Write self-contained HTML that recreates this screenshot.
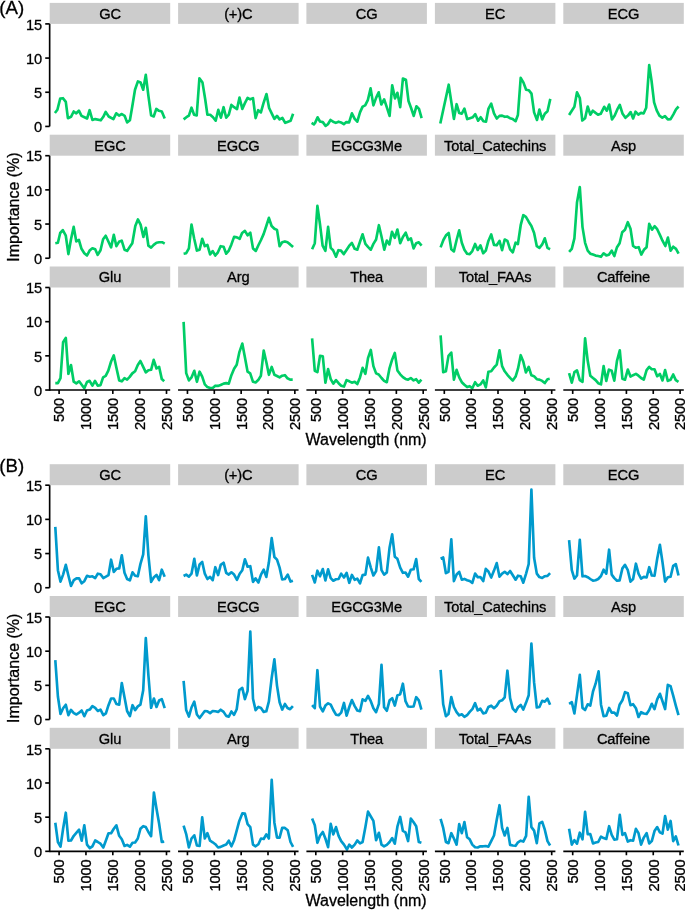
<!DOCTYPE html>
<html lang="en"><head><meta charset="utf-8"><title>Importance vs Wavelength</title>
<style>html,body{margin:0;padding:0;background:#fff}body{width:685px;height:910px;overflow:hidden}svg{display:block}text{font-family:"Liberation Sans",Arial,Helvetica,sans-serif;fill:#000;stroke:#000;stroke-width:.3px}.tk{font-size:14.67px;letter-spacing:-.15px}.st{font-size:14.67px;letter-spacing:-.15px}.ti{font-size:16.00px}.tg{font-size:18.67px}</style>
</head><body>
<svg width="685" height="910" viewBox="0 0 685 910">
<rect x="0" y="0" width="685" height="910" fill="#fff"/>
<g>
<text class="tg" x="-0.7" y="13.6">(A)</text>
<rect x="49.7" y="2.9" width="120.5" height="21.0" fill="#cccccc"/>
<text class="st" x="110.0" y="18.8" text-anchor="middle">GC</text>
<polyline points="54.9,113.0 57.4,109.8 60.2,98.6 63.0,98.2 65.8,101.9 67.9,118.2 71.0,116.8 73.7,111.5 76.3,113.3 78.9,110.7 81.5,115.9 84.5,117.3 87.1,118.5 89.6,110.2 92.4,120.0 95.2,119.1 100.8,120.3 103.3,116.8 105.7,111.9 108.7,116.5 113.4,119.1 116.2,113.3 119.0,115.6 121.8,114.0 124.6,115.8 127.1,122.4 129.9,120.3 132.3,106.3 135.0,89.7 137.9,81.4 140.6,82.5 143.2,89.7 145.8,74.8 148.4,95.8 151.1,115.4 153.7,116.5 156.3,108.9 159.0,110.8 161.8,111.5 164.7,118.5" fill="none" stroke="#00cd66" stroke-width="2.65" stroke-linejoin="round" stroke-linecap="butt"/>
<line x1="49.65" y1="23.90" x2="49.65" y2="126.43" stroke="#000" stroke-width="1.65"/>
<line x1="45.23" y1="126.43" x2="49.65" y2="126.43" stroke="#000" stroke-width="1.65"/>
<text class="tk" x="41.9" y="132.1" text-anchor="end">0</text>
<line x1="45.23" y1="92.25" x2="49.65" y2="92.25" stroke="#000" stroke-width="1.65"/>
<text class="tk" x="41.9" y="98.0" text-anchor="end">5</text>
<line x1="45.23" y1="58.08" x2="49.65" y2="58.08" stroke="#000" stroke-width="1.65"/>
<text class="tk" x="41.9" y="63.8" text-anchor="end">10</text>
<line x1="45.23" y1="23.90" x2="49.65" y2="23.90" stroke="#000" stroke-width="1.65"/>
<text class="tk" x="41.9" y="29.6" text-anchor="end">15</text>
<rect x="178.1" y="2.9" width="120.5" height="21.0" fill="#cccccc"/>
<text class="st" x="238.3" y="18.8" text-anchor="middle">(+)C</text>
<polyline points="183.6,119.4 186.4,117.2 188.9,115.6 191.5,107.7 194.1,114.7 196.7,115.4 199.4,78.3 202.5,82.6 205.2,99.3 207.4,114.7 210.2,114.7 213.0,117.2 215.7,120.7 218.3,109.8 220.9,117.7 223.6,107.2 226.2,117.7 228.8,114.7 231.4,104.9 234.1,107.2 237.0,109.1 239.5,97.5 242.3,108.9 244.9,103.1 247.6,97.9 250.2,99.3 253.0,98.1 255.6,118.2 258.2,110.2 260.9,112.4 263.5,103.1 266.5,94.0 269.1,108.0 271.7,113.3 274.4,118.9 277.0,115.9 279.6,119.4 282.4,118.0 285.2,122.9 288.0,121.7 290.6,120.8 293.1,113.7" fill="none" stroke="#00cd66" stroke-width="2.65" stroke-linejoin="round" stroke-linecap="butt"/>
<rect x="306.4" y="2.9" width="120.5" height="21.0" fill="#cccccc"/>
<text class="st" x="366.6" y="18.8" text-anchor="middle">CG</text>
<polyline points="311.6,122.9 313.9,124.3 315.1,122.9 317.6,117.3 320.0,121.5 322.8,122.1 325.6,125.9 327.9,124.2 330.5,120.0 333.1,121.7 335.8,122.9 338.6,121.7 341.0,122.4 343.8,124.2 346.3,122.1 349.1,122.4 351.9,113.3 354.7,118.9 357.3,121.7 360.0,112.4 362.6,106.6 365.2,105.4 367.8,100.2 370.6,88.4 373.4,105.4 376.1,97.9 378.7,92.3 381.3,104.5 384.1,99.3 386.6,106.6 389.6,115.9 392.2,85.3 395.0,98.4 397.4,92.8 400.2,107.2 402.9,78.6 405.9,79.7 408.5,101.0 411.1,108.0 413.7,115.9 416.4,106.3 419.0,108.9 421.6,118.2" fill="none" stroke="#00cd66" stroke-width="2.65" stroke-linejoin="round" stroke-linecap="butt"/>
<rect x="434.9" y="2.9" width="120.5" height="21.0" fill="#cccccc"/>
<text class="st" x="495.1" y="18.8" text-anchor="middle">EC</text>
<polyline points="440.3,123.5 448.7,84.7 453.9,118.9 456.6,104.2 459.2,113.0 461.8,113.7 464.4,108.6 467.2,119.1 470.0,118.2 472.7,117.3 475.3,114.2 478.1,120.7 480.7,117.2 483.4,121.2 486.0,121.7 488.4,108.9 491.2,103.7 494.0,113.3 496.7,118.5 499.5,115.9 502.1,115.6 504.7,116.8 507.2,116.5 510.0,118.2 512.8,119.1 515.6,121.2 517.9,115.0 520.7,77.9 523.5,82.6 526.1,89.7 528.7,90.2 531.5,93.7 534.1,112.4 537.0,120.0 539.4,109.5 542.2,119.4 544.8,113.7 547.5,111.2 550.3,98.9" fill="none" stroke="#00cd66" stroke-width="2.65" stroke-linejoin="round" stroke-linecap="butt"/>
<rect x="563.3" y="2.9" width="120.5" height="21.0" fill="#cccccc"/>
<text class="st" x="623.5" y="18.8" text-anchor="middle">ECG</text>
<polyline points="569.1,115.0 571.8,110.7 574.4,106.8 577.0,92.3 579.8,98.0 582.3,120.5 585.1,118.2 587.7,106.5 590.3,114.7 592.8,110.7 595.6,112.9 598.0,114.7 600.7,113.8 604.2,106.8 606.8,110.7 609.2,104.5 612.0,119.4 614.7,115.6 617.3,109.4 619.8,105.0 622.6,113.8 625.4,117.8 628.0,115.6 630.6,112.1 633.1,118.5 635.5,111.7 638.3,114.7 641.0,112.9 643.6,113.5 646.2,107.7 649.2,65.1 651.5,80.5 654.1,102.4 656.7,110.3 659.4,115.6 662.3,117.7 665.0,116.1 667.8,119.4 670.6,119.1 673.4,114.3 676.0,109.4 678.6,106.5" fill="none" stroke="#00cd66" stroke-width="2.65" stroke-linejoin="round" stroke-linecap="butt"/>
<rect x="49.7" y="134.7" width="120.5" height="21.0" fill="#cccccc"/>
<text class="st" x="110.0" y="150.6" text-anchor="middle">EGC</text>
<polyline points="55.3,243.2 57.9,242.7 60.2,233.0 62.8,230.1 65.8,235.7 68.4,254.1 71.0,239.2 73.7,226.9 76.3,241.4 78.9,240.0 81.5,248.8 84.3,253.2 87.0,255.5 89.6,250.6 92.4,248.3 95.2,249.3 97.7,254.9 100.5,250.2 103.1,239.2 105.7,235.7 108.5,241.8 111.1,247.4 113.8,234.8 116.4,246.2 119.0,241.8 121.7,240.6 124.5,249.7 127.1,250.9 129.7,247.1 132.3,243.2 135.3,226.0 137.9,219.4 140.6,224.6 143.4,236.9 145.8,227.8 148.4,245.7 151.1,247.6 153.7,244.9 156.5,242.7 159.1,242.2 162.1,242.2 164.7,243.6" fill="none" stroke="#00cd66" stroke-width="2.65" stroke-linejoin="round" stroke-linecap="butt"/>
<line x1="49.65" y1="155.70" x2="49.65" y2="258.23" stroke="#000" stroke-width="1.65"/>
<line x1="45.23" y1="258.23" x2="49.65" y2="258.23" stroke="#000" stroke-width="1.65"/>
<text class="tk" x="41.9" y="263.9" text-anchor="end">0</text>
<line x1="45.23" y1="224.05" x2="49.65" y2="224.05" stroke="#000" stroke-width="1.65"/>
<text class="tk" x="41.9" y="229.8" text-anchor="end">5</text>
<line x1="45.23" y1="189.88" x2="49.65" y2="189.88" stroke="#000" stroke-width="1.65"/>
<text class="tk" x="41.9" y="195.6" text-anchor="end">10</text>
<line x1="45.23" y1="155.70" x2="49.65" y2="155.70" stroke="#000" stroke-width="1.65"/>
<text class="tk" x="41.9" y="161.4" text-anchor="end">15</text>
<rect x="178.1" y="134.7" width="120.5" height="21.0" fill="#cccccc"/>
<text class="st" x="238.3" y="150.6" text-anchor="middle">EGCG</text>
<polyline points="183.6,253.7 186.2,253.2 188.9,248.4 191.5,224.6 194.1,238.3 196.9,250.6 199.6,249.7 202.2,238.8 204.8,246.2 207.4,244.8 210.1,254.4 212.7,251.1 215.3,255.5 217.9,252.3 220.6,246.2 223.6,246.7 226.2,253.7 228.8,250.6 231.4,244.4 234.1,236.9 236.9,237.4 239.7,238.8 242.1,233.0 244.9,230.9 247.6,235.3 250.3,232.7 253.0,248.4 255.8,250.9 258.4,245.3 261.0,240.0 263.7,233.9 266.3,226.0 268.9,217.8 271.6,226.0 274.4,228.7 277.0,229.9 279.6,246.2 282.2,242.2 284.9,241.4 287.5,242.3 290.1,244.4 293.1,247.1" fill="none" stroke="#00cd66" stroke-width="2.65" stroke-linejoin="round" stroke-linecap="butt"/>
<rect x="306.4" y="134.7" width="120.5" height="21.0" fill="#cccccc"/>
<text class="st" x="366.6" y="150.6" text-anchor="middle">EGCG3Me</text>
<polyline points="312.1,249.2 314.8,243.2 317.4,205.9 320.0,224.3 322.6,245.7 325.4,250.9 328.1,226.9 330.7,247.9 333.1,250.2 336.0,256.7 338.4,250.2 341.0,250.6 343.8,254.1 346.5,250.0 349.3,245.7 351.9,243.0 354.7,248.8 357.3,249.7 360.0,241.8 362.6,234.3 365.4,243.9 368.2,247.1 370.8,249.7 373.4,243.9 376.1,239.5 378.9,225.2 381.5,236.5 384.3,249.7 386.8,240.6 389.4,244.4 392.0,231.8 394.8,237.9 397.4,229.5 400.2,243.2 402.9,236.9 405.7,232.7 408.3,240.0 410.9,238.3 413.6,248.4 416.2,243.2 418.8,242.3 421.6,245.7" fill="none" stroke="#00cd66" stroke-width="2.65" stroke-linejoin="round" stroke-linecap="butt"/>
<rect x="434.9" y="134.7" width="120.5" height="21.0" fill="#cccccc"/>
<text class="st" x="495.1" y="150.6" text-anchor="middle">Total_Catechins</text>
<polyline points="440.6,247.4 443.4,240.0 446.0,235.3 448.7,233.0 451.3,249.2 453.9,251.4 456.6,240.0 459.2,230.4 461.8,242.7 464.4,249.7 467.1,253.7 469.7,254.1 472.3,251.1 475.1,243.9 477.7,250.0 480.4,245.3 483.2,253.2 485.8,250.6 488.4,240.9 491.2,234.4 494.0,244.9 496.7,245.3 499.5,240.9 502.1,250.2 504.7,239.5 507.4,240.9 510.1,249.3 512.8,252.3 515.6,242.7 517.9,244.1 520.7,225.2 523.3,215.2 525.9,216.9 528.7,221.7 531.4,226.0 534.1,233.0 536.8,246.2 539.4,247.9 542.2,244.4 544.8,238.3 547.5,247.9 550.1,249.2" fill="none" stroke="#00cd66" stroke-width="2.65" stroke-linejoin="round" stroke-linecap="butt"/>
<rect x="563.3" y="134.7" width="120.5" height="21.0" fill="#cccccc"/>
<text class="st" x="623.5" y="150.6" text-anchor="middle">Asp</text>
<polyline points="569.1,251.9 571.8,248.9 574.4,238.4 577.0,202.5 579.8,187.1 582.5,227.1 585.1,242.8 587.7,250.7 590.3,253.7 593.0,254.6 595.6,255.6 598.2,256.0 601.0,256.8 603.6,253.3 606.3,255.4 608.9,254.7 611.7,250.7 614.3,256.0 617.0,247.2 619.6,243.2 622.2,232.3 625.0,229.7 627.8,222.2 630.5,228.8 633.1,246.0 635.7,247.7 638.7,247.2 641.3,254.6 643.9,249.8 646.6,247.2 649.2,223.9 652.0,229.7 654.6,226.2 657.2,229.2 659.9,234.9 662.5,240.7 665.3,246.0 667.9,237.6 670.6,250.7 673.2,246.7 676.0,248.9 678.6,253.7" fill="none" stroke="#00cd66" stroke-width="2.65" stroke-linejoin="round" stroke-linecap="butt"/>
<rect x="49.7" y="266.5" width="120.5" height="21.0" fill="#cccccc"/>
<text class="st" x="110.0" y="282.4" text-anchor="middle">Glu</text>
<polyline points="55.3,383.1 57.9,383.1 60.5,378.2 63.1,342.3 65.8,337.9 68.4,373.8 71.0,365.0 73.7,381.7 76.3,383.4 79.1,381.3 81.7,384.8 84.3,388.3 87.0,382.0 89.6,380.8 92.4,385.7 95.0,380.8 97.7,385.7 100.5,385.2 103.1,377.3 105.7,375.9 108.3,370.6 111.1,361.5 113.8,355.4 116.4,367.7 119.2,380.4 121.8,381.3 124.5,378.2 127.1,379.6 129.7,376.9 132.3,373.4 135.1,371.2 137.8,365.0 140.4,361.0 143.2,366.8 145.8,372.4 148.4,370.3 151.1,369.8 153.7,359.8 156.5,368.5 159.1,366.8 161.8,379.1 164.2,381.3" fill="none" stroke="#00cd66" stroke-width="2.65" stroke-linejoin="round" stroke-linecap="butt"/>
<line x1="49.65" y1="287.50" x2="49.65" y2="390.85" stroke="#000" stroke-width="1.65"/>
<line x1="45.23" y1="390.03" x2="49.65" y2="390.03" stroke="#000" stroke-width="1.65"/>
<text class="tk" x="41.9" y="395.7" text-anchor="end">0</text>
<line x1="45.23" y1="355.85" x2="49.65" y2="355.85" stroke="#000" stroke-width="1.65"/>
<text class="tk" x="41.9" y="361.6" text-anchor="end">5</text>
<line x1="45.23" y1="321.68" x2="49.65" y2="321.68" stroke="#000" stroke-width="1.65"/>
<text class="tk" x="41.9" y="327.4" text-anchor="end">10</text>
<line x1="45.23" y1="287.50" x2="49.65" y2="287.50" stroke="#000" stroke-width="1.65"/>
<text class="tk" x="41.9" y="293.2" text-anchor="end">15</text>
<line x1="49.70" y1="390.03" x2="170.20" y2="390.03" stroke="#000" stroke-width="1.65"/>
<line x1="59.10" y1="390.03" x2="59.10" y2="393.95" stroke="#000" stroke-width="1.65"/>
<text class="tk" transform="translate(64.4,398.1) rotate(-90)" text-anchor="end">500</text>
<line x1="85.95" y1="390.03" x2="85.95" y2="393.95" stroke="#000" stroke-width="1.65"/>
<text class="tk" transform="translate(91.2,398.1) rotate(-90)" text-anchor="end">1000</text>
<line x1="112.80" y1="390.03" x2="112.80" y2="393.95" stroke="#000" stroke-width="1.65"/>
<text class="tk" transform="translate(118.1,398.1) rotate(-90)" text-anchor="end">1500</text>
<line x1="139.65" y1="390.03" x2="139.65" y2="393.95" stroke="#000" stroke-width="1.65"/>
<text class="tk" transform="translate(145.0,398.1) rotate(-90)" text-anchor="end">2000</text>
<line x1="166.50" y1="390.03" x2="166.50" y2="393.95" stroke="#000" stroke-width="1.65"/>
<text class="tk" transform="translate(171.8,398.1) rotate(-90)" text-anchor="end">2500</text>
<rect x="178.1" y="266.5" width="120.5" height="21.0" fill="#cccccc"/>
<text class="st" x="238.3" y="282.4" text-anchor="middle">Arg</text>
<polyline points="183.6,321.9 186.2,373.1 188.9,380.4 191.5,377.4 194.3,370.8 196.9,381.8 199.6,371.7 202.2,376.6 204.8,384.4 207.4,387.1 210.1,388.0 212.7,388.0 215.3,385.7 217.9,385.9 220.6,385.0 223.6,383.6 226.2,383.1 228.8,383.6 231.4,375.2 234.1,368.7 236.7,364.7 239.3,352.4 242.3,343.6 244.9,357.3 247.6,371.7 250.2,373.4 253.0,381.8 255.6,382.4 258.2,380.1 260.9,375.7 263.7,350.6 266.3,362.0 268.9,374.8 271.7,366.9 274.4,374.8 277.0,376.0 279.6,377.4 282.2,375.7 284.9,375.2 287.5,378.3 290.1,379.6 292.7,379.6" fill="none" stroke="#00cd66" stroke-width="2.65" stroke-linejoin="round" stroke-linecap="butt"/>
<line x1="178.05" y1="390.03" x2="298.55" y2="390.03" stroke="#000" stroke-width="1.65"/>
<line x1="187.45" y1="390.03" x2="187.45" y2="393.95" stroke="#000" stroke-width="1.65"/>
<text class="tk" transform="translate(192.8,398.1) rotate(-90)" text-anchor="end">500</text>
<line x1="214.30" y1="390.03" x2="214.30" y2="393.95" stroke="#000" stroke-width="1.65"/>
<text class="tk" transform="translate(219.6,398.1) rotate(-90)" text-anchor="end">1000</text>
<line x1="241.15" y1="390.03" x2="241.15" y2="393.95" stroke="#000" stroke-width="1.65"/>
<text class="tk" transform="translate(246.5,398.1) rotate(-90)" text-anchor="end">1500</text>
<line x1="268.00" y1="390.03" x2="268.00" y2="393.95" stroke="#000" stroke-width="1.65"/>
<text class="tk" transform="translate(273.3,398.1) rotate(-90)" text-anchor="end">2000</text>
<line x1="294.85" y1="390.03" x2="294.85" y2="393.95" stroke="#000" stroke-width="1.65"/>
<text class="tk" transform="translate(300.2,398.1) rotate(-90)" text-anchor="end">2500</text>
<rect x="306.4" y="266.5" width="120.5" height="21.0" fill="#cccccc"/>
<text class="st" x="366.6" y="282.4" text-anchor="middle">Thea</text>
<polyline points="312.1,338.4 314.8,370.8 317.4,372.2 320.0,355.9 322.8,356.4 325.4,382.7 328.1,369.0 330.7,379.2 333.3,383.6 336.0,380.1 338.6,383.2 341.2,385.7 344.0,386.6 346.6,380.1 349.3,381.3 351.9,382.7 354.7,381.8 357.3,384.1 360.0,377.4 362.6,367.8 365.4,373.9 368.0,358.2 370.8,349.9 373.4,366.1 376.1,373.4 378.7,374.5 381.5,378.0 384.1,380.9 386.8,382.2 389.4,368.7 392.2,359.4 394.8,352.9 397.4,370.4 400.2,374.3 402.9,377.1 405.5,378.9 408.1,379.7 410.8,378.0 413.6,380.4 416.2,379.2 418.8,382.7 421.4,379.6" fill="none" stroke="#00cd66" stroke-width="2.65" stroke-linejoin="round" stroke-linecap="butt"/>
<line x1="306.40" y1="390.03" x2="426.90" y2="390.03" stroke="#000" stroke-width="1.65"/>
<line x1="315.80" y1="390.03" x2="315.80" y2="393.95" stroke="#000" stroke-width="1.65"/>
<text class="tk" transform="translate(321.1,398.1) rotate(-90)" text-anchor="end">500</text>
<line x1="342.65" y1="390.03" x2="342.65" y2="393.95" stroke="#000" stroke-width="1.65"/>
<text class="tk" transform="translate(347.9,398.1) rotate(-90)" text-anchor="end">1000</text>
<line x1="369.50" y1="390.03" x2="369.50" y2="393.95" stroke="#000" stroke-width="1.65"/>
<text class="tk" transform="translate(374.8,398.1) rotate(-90)" text-anchor="end">1500</text>
<line x1="396.35" y1="390.03" x2="396.35" y2="393.95" stroke="#000" stroke-width="1.65"/>
<text class="tk" transform="translate(401.6,398.1) rotate(-90)" text-anchor="end">2000</text>
<line x1="423.20" y1="390.03" x2="423.20" y2="393.95" stroke="#000" stroke-width="1.65"/>
<text class="tk" transform="translate(428.5,398.1) rotate(-90)" text-anchor="end">2500</text>
<rect x="434.9" y="266.5" width="120.5" height="21.0" fill="#cccccc"/>
<text class="st" x="495.1" y="282.4" text-anchor="middle">Total_FAAs</text>
<polyline points="440.6,335.4 443.2,372.2 445.9,371.3 448.5,355.9 451.3,352.6 453.9,379.7 456.6,369.9 459.2,377.4 461.8,382.2 464.4,384.8 467.1,387.1 469.7,386.2 472.3,388.3 475.1,382.2 477.7,385.7 480.4,384.4 483.2,380.4 485.8,387.4 488.4,371.7 491.2,371.3 494.0,367.5 496.7,364.7 499.5,350.3 502.1,366.1 504.7,371.3 507.4,374.8 510.1,377.8 512.8,380.6 515.6,376.6 518.0,368.7 520.7,355.2 523.3,361.7 525.9,372.5 528.7,366.9 531.4,375.3 534.0,376.2 536.8,379.2 539.4,379.6 542.2,380.9 544.8,383.1 547.5,379.2 549.7,378.7" fill="none" stroke="#00cd66" stroke-width="2.65" stroke-linejoin="round" stroke-linecap="butt"/>
<line x1="434.90" y1="390.03" x2="555.40" y2="390.03" stroke="#000" stroke-width="1.65"/>
<line x1="444.30" y1="390.03" x2="444.30" y2="393.95" stroke="#000" stroke-width="1.65"/>
<text class="tk" transform="translate(449.6,398.1) rotate(-90)" text-anchor="end">500</text>
<line x1="471.15" y1="390.03" x2="471.15" y2="393.95" stroke="#000" stroke-width="1.65"/>
<text class="tk" transform="translate(476.4,398.1) rotate(-90)" text-anchor="end">1000</text>
<line x1="498.00" y1="390.03" x2="498.00" y2="393.95" stroke="#000" stroke-width="1.65"/>
<text class="tk" transform="translate(503.3,398.1) rotate(-90)" text-anchor="end">1500</text>
<line x1="524.85" y1="390.03" x2="524.85" y2="393.95" stroke="#000" stroke-width="1.65"/>
<text class="tk" transform="translate(530.1,398.1) rotate(-90)" text-anchor="end">2000</text>
<line x1="551.70" y1="390.03" x2="551.70" y2="393.95" stroke="#000" stroke-width="1.65"/>
<text class="tk" transform="translate(557.0,398.1) rotate(-90)" text-anchor="end">2500</text>
<rect x="563.3" y="266.5" width="120.5" height="21.0" fill="#cccccc"/>
<text class="st" x="623.5" y="282.4" text-anchor="middle">Caffeine</text>
<polyline points="569.1,373.1 571.8,382.7 574.4,372.2 577.0,370.4 579.8,380.1 582.5,381.8 585.1,338.4 587.7,360.8 590.3,375.7 593.0,378.0 595.6,380.1 598.2,383.2 601.0,384.4 603.6,366.1 606.3,380.9 608.9,369.6 611.7,370.8 614.3,380.6 617.0,360.8 619.8,350.3 622.4,378.7 625.0,379.7 627.8,369.6 630.5,376.6 633.1,375.2 635.9,373.9 638.5,375.7 641.1,378.0 643.8,379.6 646.6,370.1 649.2,366.9 651.8,369.2 654.5,369.2 657.2,376.2 659.9,373.9 662.5,380.4 665.1,370.1 667.8,380.9 670.6,379.7 673.2,374.5 675.8,380.1 678.5,381.8" fill="none" stroke="#00cd66" stroke-width="2.65" stroke-linejoin="round" stroke-linecap="butt"/>
<line x1="563.30" y1="390.03" x2="683.80" y2="390.03" stroke="#000" stroke-width="1.65"/>
<line x1="572.70" y1="390.03" x2="572.70" y2="393.95" stroke="#000" stroke-width="1.65"/>
<text class="tk" transform="translate(578.0,398.1) rotate(-90)" text-anchor="end">500</text>
<line x1="599.55" y1="390.03" x2="599.55" y2="393.95" stroke="#000" stroke-width="1.65"/>
<text class="tk" transform="translate(604.8,398.1) rotate(-90)" text-anchor="end">1000</text>
<line x1="626.40" y1="390.03" x2="626.40" y2="393.95" stroke="#000" stroke-width="1.65"/>
<text class="tk" transform="translate(631.7,398.1) rotate(-90)" text-anchor="end">1500</text>
<line x1="653.25" y1="390.03" x2="653.25" y2="393.95" stroke="#000" stroke-width="1.65"/>
<text class="tk" transform="translate(658.5,398.1) rotate(-90)" text-anchor="end">2000</text>
<line x1="680.10" y1="390.03" x2="680.10" y2="393.95" stroke="#000" stroke-width="1.65"/>
<text class="tk" transform="translate(685.4,398.1) rotate(-90)" text-anchor="end">2500</text>
<text class="ti" transform="translate(18.5,207.0) rotate(-90)" text-anchor="middle">Importance (%)</text>
<text class="ti" x="366.1" y="444.6" text-anchor="middle">Wavelength (nm)</text>
</g>
<g>
<text class="tg" x="-0.7" y="472.4">(B)</text>
<rect x="49.7" y="464.2" width="120.5" height="21.0" fill="#cccccc"/>
<text class="st" x="110.0" y="480.1" text-anchor="middle">GC</text>
<polyline points="55.3,526.9 57.9,570.2 60.5,581.6 63.1,574.6 65.8,564.9 68.4,575.5 71.0,586.0 73.8,580.2 76.5,578.4 79.1,578.4 81.7,583.3 84.3,581.2 87.0,575.8 89.8,576.7 92.4,576.3 95.2,578.1 97.8,573.7 100.5,574.2 103.3,578.1 105.9,576.7 108.5,575.1 111.1,559.7 113.8,571.9 116.4,568.8 119.2,568.4 121.8,555.3 124.5,572.8 127.1,579.0 129.9,580.4 132.5,572.3 135.1,575.8 137.8,576.3 140.4,564.1 143.2,554.4 145.8,516.4 148.4,555.3 151.1,581.9 153.9,577.2 156.5,574.9 159.1,580.2 161.8,569.7 164.7,576.7" fill="none" stroke="#009acd" stroke-width="2.65" stroke-linejoin="round" stroke-linecap="butt"/>
<line x1="49.65" y1="485.20" x2="49.65" y2="587.73" stroke="#000" stroke-width="1.65"/>
<line x1="45.23" y1="587.73" x2="49.65" y2="587.73" stroke="#000" stroke-width="1.65"/>
<text class="tk" x="41.9" y="593.4" text-anchor="end">0</text>
<line x1="45.23" y1="553.55" x2="49.65" y2="553.55" stroke="#000" stroke-width="1.65"/>
<text class="tk" x="41.9" y="559.3" text-anchor="end">5</text>
<line x1="45.23" y1="519.38" x2="49.65" y2="519.38" stroke="#000" stroke-width="1.65"/>
<text class="tk" x="41.9" y="525.1" text-anchor="end">10</text>
<line x1="45.23" y1="485.20" x2="49.65" y2="485.20" stroke="#000" stroke-width="1.65"/>
<text class="tk" x="41.9" y="490.9" text-anchor="end">15</text>
<rect x="178.1" y="464.2" width="120.5" height="21.0" fill="#cccccc"/>
<text class="st" x="238.3" y="480.1" text-anchor="middle">(+)C</text>
<polyline points="183.6,576.0 186.2,574.6 188.9,576.7 191.5,573.7 194.3,558.8 196.9,575.5 199.6,564.4 202.2,562.0 204.8,573.7 207.4,579.0 210.1,576.9 212.7,580.2 215.3,567.2 218.1,575.1 220.7,564.9 223.6,562.7 226.2,572.8 228.8,574.6 231.4,572.3 234.1,574.6 237.0,579.8 239.7,573.7 242.3,570.2 244.9,559.3 247.6,566.7 250.3,566.2 253.0,581.9 255.6,578.4 258.4,582.5 261.0,574.6 263.7,569.7 266.3,576.9 268.9,562.3 271.7,538.1 274.4,557.0 277.0,559.7 279.6,567.6 282.2,579.5 284.9,579.0 287.7,574.6 290.5,581.6 292.9,580.7" fill="none" stroke="#009acd" stroke-width="2.65" stroke-linejoin="round" stroke-linecap="butt"/>
<rect x="306.4" y="464.2" width="120.5" height="21.0" fill="#cccccc"/>
<text class="st" x="366.6" y="480.1" text-anchor="middle">CG</text>
<polyline points="312.1,574.9 314.8,582.5 317.4,570.7 320.0,576.3 322.8,569.0 325.4,580.4 328.1,569.3 330.7,578.1 333.3,580.7 336.0,579.3 338.6,579.0 341.2,573.7 344.0,577.5 346.6,572.8 349.3,582.8 351.9,574.9 354.7,579.8 357.3,578.6 360.0,583.3 362.6,575.1 365.4,574.6 368.0,557.6 370.8,567.6 373.4,575.5 376.1,571.1 378.9,547.4 381.5,570.2 384.1,574.6 386.8,572.5 389.6,547.4 392.2,534.3 394.8,556.7 397.4,558.8 400.2,567.6 402.9,572.8 405.5,572.5 408.1,576.7 410.8,569.7 413.6,569.3 416.2,559.1 418.8,579.0 421.4,581.9" fill="none" stroke="#009acd" stroke-width="2.65" stroke-linejoin="round" stroke-linecap="butt"/>
<rect x="434.9" y="464.2" width="120.5" height="21.0" fill="#cccccc"/>
<text class="st" x="495.1" y="480.1" text-anchor="middle">EC</text>
<polyline points="440.6,558.7 443.2,557.5 445.9,573.2 448.5,571.8 451.3,539.4 453.9,581.1 456.6,574.5 459.2,571.8 461.8,579.7 464.4,578.9 467.1,580.2 469.7,581.0 472.3,582.9 475.1,573.6 477.7,577.1 480.4,577.1 483.2,581.1 485.8,568.9 488.4,571.5 491.2,577.5 494.0,570.6 496.7,563.1 499.5,576.7 502.1,573.6 504.7,571.8 507.4,574.1 510.1,571.0 512.8,575.3 515.6,579.7 518.0,575.7 520.7,576.2 523.3,582.7 526.1,573.6 528.7,564.0 531.4,489.5 534.1,557.8 536.8,573.6 539.4,577.1 542.2,578.0 544.8,576.2 547.5,575.9 550.1,573.2" fill="none" stroke="#009acd" stroke-width="2.65" stroke-linejoin="round" stroke-linecap="butt"/>
<rect x="563.3" y="464.2" width="120.5" height="21.0" fill="#cccccc"/>
<text class="st" x="623.5" y="480.1" text-anchor="middle">ECG</text>
<polyline points="569.1,540.1 571.8,570.2 574.4,578.6 577.0,575.5 579.8,539.9 582.5,576.3 585.1,576.0 587.7,577.2 590.3,579.0 593.0,580.7 595.6,580.2 598.2,579.0 601.0,576.0 603.6,569.7 606.3,573.7 609.1,549.7 611.7,574.6 614.3,578.1 617.0,580.7 619.6,580.4 622.4,568.4 625.0,564.9 627.8,570.2 630.5,581.6 633.1,579.0 635.9,563.7 638.5,573.7 641.1,578.6 643.8,576.9 646.6,577.5 649.2,567.2 651.8,575.5 654.5,575.8 657.2,558.8 659.9,544.8 662.5,562.3 665.1,581.6 667.8,577.2 670.6,576.7 673.2,565.8 675.8,564.1 678.5,575.5" fill="none" stroke="#009acd" stroke-width="2.65" stroke-linejoin="round" stroke-linecap="butt"/>
<rect x="49.7" y="596.0" width="120.5" height="21.0" fill="#cccccc"/>
<text class="st" x="110.0" y="611.9" text-anchor="middle">EGC</text>
<polyline points="55.3,660.2 57.9,696.5 60.5,714.0 63.1,708.2 65.8,704.7 68.4,715.2 71.0,709.9 73.8,713.1 76.5,714.5 79.1,712.7 81.7,710.5 84.3,716.2 87.0,710.5 89.8,709.6 92.4,706.1 95.2,707.8 97.8,711.0 100.5,709.6 103.3,715.2 105.9,713.4 108.5,705.2 111.1,698.5 113.8,698.5 116.4,704.0 119.2,704.7 121.8,683.0 124.5,697.3 127.1,711.0 129.9,716.2 132.5,705.2 135.1,710.1 137.8,706.4 140.4,704.7 143.2,690.3 145.8,638.1 148.4,675.4 151.1,707.8 153.9,698.5 156.5,707.0 159.1,700.5 161.8,699.1 164.7,708.2" fill="none" stroke="#009acd" stroke-width="2.65" stroke-linejoin="round" stroke-linecap="butt"/>
<line x1="49.65" y1="617.00" x2="49.65" y2="719.53" stroke="#000" stroke-width="1.65"/>
<line x1="45.23" y1="719.53" x2="49.65" y2="719.53" stroke="#000" stroke-width="1.65"/>
<text class="tk" x="41.9" y="725.2" text-anchor="end">0</text>
<line x1="45.23" y1="685.35" x2="49.65" y2="685.35" stroke="#000" stroke-width="1.65"/>
<text class="tk" x="41.9" y="691.1" text-anchor="end">5</text>
<line x1="45.23" y1="651.18" x2="49.65" y2="651.18" stroke="#000" stroke-width="1.65"/>
<text class="tk" x="41.9" y="656.9" text-anchor="end">10</text>
<line x1="45.23" y1="617.00" x2="49.65" y2="617.00" stroke="#000" stroke-width="1.65"/>
<text class="tk" x="41.9" y="622.7" text-anchor="end">15</text>
<rect x="178.1" y="596.0" width="120.5" height="21.0" fill="#cccccc"/>
<text class="st" x="238.3" y="611.9" text-anchor="middle">EGCG</text>
<polyline points="183.6,680.8 186.2,710.1 188.9,716.6 191.5,707.5 194.3,701.7 196.9,714.5 199.6,718.0 202.2,714.5 204.8,711.0 207.4,711.3 210.1,713.1 212.7,711.0 215.3,711.3 218.1,711.9 220.7,709.7 223.6,711.9 226.2,715.9 228.8,716.6 231.4,711.5 234.1,714.8 236.7,709.2 239.3,690.0 242.3,687.9 244.9,699.2 247.6,690.8 250.3,631.6 253.0,698.7 255.6,710.1 258.4,706.9 261.0,708.0 263.7,711.9 266.3,711.3 268.9,701.3 271.7,677.7 274.4,659.3 277.0,685.6 279.6,702.2 282.2,709.6 284.9,704.0 287.5,708.0 290.1,709.2 292.9,706.1" fill="none" stroke="#009acd" stroke-width="2.65" stroke-linejoin="round" stroke-linecap="butt"/>
<rect x="306.4" y="596.0" width="120.5" height="21.0" fill="#cccccc"/>
<text class="st" x="366.6" y="611.9" text-anchor="middle">EGCG3Me</text>
<polyline points="312.1,705.2 314.8,708.2 317.4,670.2 320.0,706.5 322.8,711.4 325.4,705.6 328.1,703.3 330.7,704.7 333.3,710.0 336.0,714.7 338.6,715.2 341.2,712.6 344.0,702.9 346.6,715.7 349.3,707.0 351.9,700.0 354.7,706.1 357.3,710.5 360.0,711.2 362.6,699.4 365.4,700.8 368.0,695.9 370.8,701.2 373.4,708.2 376.1,712.2 378.9,703.8 381.5,664.8 384.1,707.3 386.8,710.8 389.6,700.3 392.2,698.2 394.8,705.6 397.4,695.4 400.2,694.2 402.9,683.7 405.5,701.2 408.1,706.5 410.8,706.8 413.6,706.5 416.2,697.2 418.8,700.3 421.4,709.6" fill="none" stroke="#009acd" stroke-width="2.65" stroke-linejoin="round" stroke-linecap="butt"/>
<rect x="434.9" y="596.0" width="120.5" height="21.0" fill="#cccccc"/>
<text class="st" x="495.1" y="611.9" text-anchor="middle">Total_Catechins</text>
<polyline points="440.6,669.8 443.2,704.3 445.9,716.1 448.5,714.0 451.3,697.0 453.9,707.0 456.6,712.2 459.2,715.4 461.8,714.3 464.4,716.9 467.1,715.2 469.7,711.9 472.3,709.2 475.1,703.1 477.7,710.5 480.4,708.7 483.2,713.4 485.8,712.7 488.4,707.0 491.2,705.7 494.0,708.2 496.7,705.7 499.5,701.2 502.1,700.3 504.7,697.3 507.4,670.7 510.1,698.2 512.8,708.7 515.6,711.7 518.0,707.3 520.7,704.9 523.3,709.6 526.1,702.6 528.7,695.2 531.4,643.5 534.1,682.4 536.8,707.5 539.4,707.0 542.2,700.8 544.8,701.7 547.5,698.7 550.1,704.7" fill="none" stroke="#009acd" stroke-width="2.65" stroke-linejoin="round" stroke-linecap="butt"/>
<rect x="563.3" y="596.0" width="120.5" height="21.0" fill="#cccccc"/>
<text class="st" x="623.5" y="611.9" text-anchor="middle">Asp</text>
<polyline points="569.1,703.8 571.8,702.1 574.4,713.5 577.0,695.1 579.8,674.9 582.5,707.9 585.1,710.0 587.7,704.3 590.3,705.6 593.0,691.5 595.6,683.7 598.6,671.4 601.0,704.7 603.6,716.1 606.3,715.7 609.1,707.9 611.7,712.6 614.3,712.6 617.0,715.5 619.6,704.7 622.4,700.3 625.0,692.1 627.8,693.3 630.5,705.2 633.1,704.2 635.9,708.2 638.5,717.0 641.1,712.2 643.8,713.5 646.6,714.0 649.2,710.0 651.8,703.8 654.5,709.1 657.2,699.4 659.9,693.8 662.5,701.2 665.1,709.1 667.8,684.9 670.6,686.3 673.2,695.6 675.8,705.6 678.5,715.2" fill="none" stroke="#009acd" stroke-width="2.65" stroke-linejoin="round" stroke-linecap="butt"/>
<rect x="49.7" y="727.8" width="120.5" height="21.0" fill="#cccccc"/>
<text class="st" x="110.0" y="743.7" text-anchor="middle">Glu</text>
<polyline points="55.3,822.7 57.9,842.0 60.5,846.7 63.1,828.8 65.8,812.7 68.4,840.7 71.0,840.5 73.8,835.8 76.5,832.7 79.1,829.7 81.7,840.7 84.3,825.3 87.0,844.6 89.8,848.1 92.4,846.3 95.2,840.5 97.8,842.0 100.5,843.7 103.3,847.5 105.9,840.5 108.5,833.2 111.1,833.2 113.8,828.8 116.4,825.3 119.2,835.8 121.8,839.3 124.5,846.0 127.1,844.9 129.9,846.7 132.5,842.8 135.1,842.5 137.8,838.5 140.4,828.8 143.2,826.2 145.8,827.1 148.4,832.0 151.1,836.2 153.9,792.5 156.5,808.7 159.1,823.5 161.8,842.0 164.2,841.6" fill="none" stroke="#009acd" stroke-width="2.65" stroke-linejoin="round" stroke-linecap="butt"/>
<line x1="49.65" y1="748.80" x2="49.65" y2="852.15" stroke="#000" stroke-width="1.65"/>
<line x1="45.23" y1="851.33" x2="49.65" y2="851.33" stroke="#000" stroke-width="1.65"/>
<text class="tk" x="41.9" y="857.0" text-anchor="end">0</text>
<line x1="45.23" y1="817.15" x2="49.65" y2="817.15" stroke="#000" stroke-width="1.65"/>
<text class="tk" x="41.9" y="822.9" text-anchor="end">5</text>
<line x1="45.23" y1="782.98" x2="49.65" y2="782.98" stroke="#000" stroke-width="1.65"/>
<text class="tk" x="41.9" y="788.7" text-anchor="end">10</text>
<line x1="45.23" y1="748.80" x2="49.65" y2="748.80" stroke="#000" stroke-width="1.65"/>
<text class="tk" x="41.9" y="754.5" text-anchor="end">15</text>
<line x1="49.70" y1="851.33" x2="170.20" y2="851.33" stroke="#000" stroke-width="1.65"/>
<line x1="59.10" y1="851.33" x2="59.10" y2="855.25" stroke="#000" stroke-width="1.65"/>
<text class="tk" transform="translate(64.4,859.4) rotate(-90)" text-anchor="end">500</text>
<line x1="85.95" y1="851.33" x2="85.95" y2="855.25" stroke="#000" stroke-width="1.65"/>
<text class="tk" transform="translate(91.2,859.4) rotate(-90)" text-anchor="end">1000</text>
<line x1="112.80" y1="851.33" x2="112.80" y2="855.25" stroke="#000" stroke-width="1.65"/>
<text class="tk" transform="translate(118.1,859.4) rotate(-90)" text-anchor="end">1500</text>
<line x1="139.65" y1="851.33" x2="139.65" y2="855.25" stroke="#000" stroke-width="1.65"/>
<text class="tk" transform="translate(145.0,859.4) rotate(-90)" text-anchor="end">2000</text>
<line x1="166.50" y1="851.33" x2="166.50" y2="855.25" stroke="#000" stroke-width="1.65"/>
<text class="tk" transform="translate(171.8,859.4) rotate(-90)" text-anchor="end">2500</text>
<rect x="178.1" y="727.8" width="120.5" height="21.0" fill="#cccccc"/>
<text class="st" x="238.3" y="743.7" text-anchor="middle">Arg</text>
<polyline points="183.6,825.7 186.2,834.1 188.9,847.5 191.5,838.5 194.3,835.3 196.9,845.5 199.6,846.0 202.2,817.4 204.8,838.5 207.4,833.2 210.1,840.7 212.7,842.3 215.3,844.2 218.1,847.5 220.7,846.9 223.6,845.5 226.2,844.6 228.8,840.7 231.4,846.3 234.1,840.2 236.7,830.6 239.3,820.9 242.3,813.4 244.9,813.6 247.6,824.1 250.3,827.1 253.0,844.6 255.6,846.3 258.4,844.2 261.0,838.5 263.7,839.0 266.3,834.4 268.9,838.5 271.7,779.8 274.4,822.7 277.0,837.6 279.6,837.6 282.2,827.9 284.9,827.9 287.7,830.2 290.5,842.0 293.1,846.9" fill="none" stroke="#009acd" stroke-width="2.65" stroke-linejoin="round" stroke-linecap="butt"/>
<line x1="178.05" y1="851.33" x2="298.55" y2="851.33" stroke="#000" stroke-width="1.65"/>
<line x1="187.45" y1="851.33" x2="187.45" y2="855.25" stroke="#000" stroke-width="1.65"/>
<text class="tk" transform="translate(192.8,859.4) rotate(-90)" text-anchor="end">500</text>
<line x1="214.30" y1="851.33" x2="214.30" y2="855.25" stroke="#000" stroke-width="1.65"/>
<text class="tk" transform="translate(219.6,859.4) rotate(-90)" text-anchor="end">1000</text>
<line x1="241.15" y1="851.33" x2="241.15" y2="855.25" stroke="#000" stroke-width="1.65"/>
<text class="tk" transform="translate(246.5,859.4) rotate(-90)" text-anchor="end">1500</text>
<line x1="268.00" y1="851.33" x2="268.00" y2="855.25" stroke="#000" stroke-width="1.65"/>
<text class="tk" transform="translate(273.3,859.4) rotate(-90)" text-anchor="end">2000</text>
<line x1="294.85" y1="851.33" x2="294.85" y2="855.25" stroke="#000" stroke-width="1.65"/>
<text class="tk" transform="translate(300.2,859.4) rotate(-90)" text-anchor="end">2500</text>
<rect x="306.4" y="727.8" width="120.5" height="21.0" fill="#cccccc"/>
<text class="st" x="366.6" y="743.7" text-anchor="middle">Thea</text>
<polyline points="312.1,818.6 314.8,825.3 317.4,842.8 320.0,835.8 322.8,832.0 325.4,838.5 328.1,847.2 330.7,823.9 333.3,834.4 336.0,827.1 338.6,835.8 341.2,841.1 344.0,844.6 347.0,849.5 349.3,844.6 351.9,847.5 354.7,844.6 357.3,840.5 360.0,843.4 362.6,842.0 365.4,827.1 368.0,811.6 370.8,816.5 373.4,820.9 376.1,840.2 378.9,832.8 381.5,844.6 384.1,846.3 386.8,844.9 389.6,842.0 392.2,838.1 394.8,843.7 397.4,826.7 400.2,816.9 402.9,830.9 405.5,832.3 408.1,841.1 410.8,818.6 413.6,822.3 416.2,826.2 418.8,842.0 421.4,842.8" fill="none" stroke="#009acd" stroke-width="2.65" stroke-linejoin="round" stroke-linecap="butt"/>
<line x1="306.40" y1="851.33" x2="426.90" y2="851.33" stroke="#000" stroke-width="1.65"/>
<line x1="315.80" y1="851.33" x2="315.80" y2="855.25" stroke="#000" stroke-width="1.65"/>
<text class="tk" transform="translate(321.1,859.4) rotate(-90)" text-anchor="end">500</text>
<line x1="342.65" y1="851.33" x2="342.65" y2="855.25" stroke="#000" stroke-width="1.65"/>
<text class="tk" transform="translate(347.9,859.4) rotate(-90)" text-anchor="end">1000</text>
<line x1="369.50" y1="851.33" x2="369.50" y2="855.25" stroke="#000" stroke-width="1.65"/>
<text class="tk" transform="translate(374.8,859.4) rotate(-90)" text-anchor="end">1500</text>
<line x1="396.35" y1="851.33" x2="396.35" y2="855.25" stroke="#000" stroke-width="1.65"/>
<text class="tk" transform="translate(401.6,859.4) rotate(-90)" text-anchor="end">2000</text>
<line x1="423.20" y1="851.33" x2="423.20" y2="855.25" stroke="#000" stroke-width="1.65"/>
<text class="tk" transform="translate(428.5,859.4) rotate(-90)" text-anchor="end">2500</text>
<rect x="434.9" y="727.8" width="120.5" height="21.0" fill="#cccccc"/>
<text class="st" x="495.1" y="743.7" text-anchor="middle">Total_FAAs</text>
<polyline points="440.6,818.8 443.2,827.9 445.9,842.0 448.5,843.2 451.3,833.2 453.9,838.5 456.6,844.6 459.2,824.1 461.8,833.2 464.4,822.1 467.1,837.2 469.7,839.3 472.3,844.6 475.1,847.2 477.7,847.5 480.4,846.3 483.2,846.3 485.8,846.0 488.4,846.7 491.2,841.1 494.0,835.5 496.7,820.0 499.5,805.2 502.1,827.9 504.7,835.5 507.4,827.9 510.1,844.9 512.8,845.5 515.6,845.8 518.0,842.3 520.7,840.7 523.3,841.6 526.1,835.8 528.7,796.9 531.4,827.1 534.1,830.6 536.8,843.2 539.4,823.5 542.2,821.8 544.8,829.7 547.5,841.1 550.1,845.5" fill="none" stroke="#009acd" stroke-width="2.65" stroke-linejoin="round" stroke-linecap="butt"/>
<line x1="434.90" y1="851.33" x2="555.40" y2="851.33" stroke="#000" stroke-width="1.65"/>
<line x1="444.30" y1="851.33" x2="444.30" y2="855.25" stroke="#000" stroke-width="1.65"/>
<text class="tk" transform="translate(449.6,859.4) rotate(-90)" text-anchor="end">500</text>
<line x1="471.15" y1="851.33" x2="471.15" y2="855.25" stroke="#000" stroke-width="1.65"/>
<text class="tk" transform="translate(476.4,859.4) rotate(-90)" text-anchor="end">1000</text>
<line x1="498.00" y1="851.33" x2="498.00" y2="855.25" stroke="#000" stroke-width="1.65"/>
<text class="tk" transform="translate(503.3,859.4) rotate(-90)" text-anchor="end">1500</text>
<line x1="524.85" y1="851.33" x2="524.85" y2="855.25" stroke="#000" stroke-width="1.65"/>
<text class="tk" transform="translate(530.1,859.4) rotate(-90)" text-anchor="end">2000</text>
<line x1="551.70" y1="851.33" x2="551.70" y2="855.25" stroke="#000" stroke-width="1.65"/>
<text class="tk" transform="translate(557.0,859.4) rotate(-90)" text-anchor="end">2500</text>
<rect x="563.3" y="727.8" width="120.5" height="21.0" fill="#cccccc"/>
<text class="st" x="623.5" y="743.7" text-anchor="middle">Caffeine</text>
<polyline points="569.1,828.8 571.8,844.6 574.4,840.2 577.0,843.7 579.8,832.7 582.5,839.3 585.1,811.8 587.7,834.1 590.3,834.1 593.0,843.4 595.6,842.5 598.2,842.0 601.0,836.7 603.6,838.1 606.3,839.0 609.1,826.2 611.7,834.9 614.3,839.7 617.0,839.3 619.8,814.8 622.4,834.9 625.0,833.2 627.8,841.6 630.5,840.2 633.1,840.7 635.9,828.8 638.5,833.2 641.1,844.6 643.8,837.6 646.6,833.2 649.2,843.4 651.8,841.1 654.5,831.1 657.2,827.1 659.9,832.3 662.5,833.7 665.1,816.0 667.8,829.7 670.6,820.9 673.2,841.1 675.8,836.3 678.5,845.5" fill="none" stroke="#009acd" stroke-width="2.65" stroke-linejoin="round" stroke-linecap="butt"/>
<line x1="563.30" y1="851.33" x2="683.80" y2="851.33" stroke="#000" stroke-width="1.65"/>
<line x1="572.70" y1="851.33" x2="572.70" y2="855.25" stroke="#000" stroke-width="1.65"/>
<text class="tk" transform="translate(578.0,859.4) rotate(-90)" text-anchor="end">500</text>
<line x1="599.55" y1="851.33" x2="599.55" y2="855.25" stroke="#000" stroke-width="1.65"/>
<text class="tk" transform="translate(604.8,859.4) rotate(-90)" text-anchor="end">1000</text>
<line x1="626.40" y1="851.33" x2="626.40" y2="855.25" stroke="#000" stroke-width="1.65"/>
<text class="tk" transform="translate(631.7,859.4) rotate(-90)" text-anchor="end">1500</text>
<line x1="653.25" y1="851.33" x2="653.25" y2="855.25" stroke="#000" stroke-width="1.65"/>
<text class="tk" transform="translate(658.5,859.4) rotate(-90)" text-anchor="end">2000</text>
<line x1="680.10" y1="851.33" x2="680.10" y2="855.25" stroke="#000" stroke-width="1.65"/>
<text class="tk" transform="translate(685.4,859.4) rotate(-90)" text-anchor="end">2500</text>
<text class="ti" transform="translate(18.5,668.3) rotate(-90)" text-anchor="middle">Importance (%)</text>
<text class="ti" x="366.1" y="905.9" text-anchor="middle">Wavelength (nm)</text>
</g>
</svg></body></html>
